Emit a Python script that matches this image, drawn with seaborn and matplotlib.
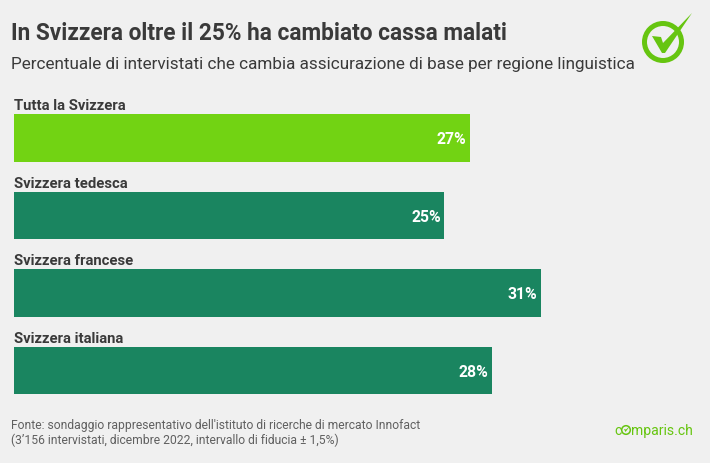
import matplotlib
matplotlib.use("Agg")
import matplotlib.pyplot as plt
from matplotlib.patches import Circle, Polygon
import pandas as pd
import seaborn as sns

regions = ["Tutta la Svizzera", "Svizzera tedesca", "Svizzera francese", "Svizzera italiana"]
shares = [26.8, 25.3, 31.0, 28.1]
share_labels = ["27%", "25%", "31%", "28%"]
bar_colors = ["#72D313", "#1A8560", "#1A8560", "#1A8560"]

BG = "#F0F0F0"
DARK = "#3A3A3A"
GREEN = "#66C510"
W, H = 710, 464

sns.set_theme(style="white", rc={"figure.facecolor": BG, "axes.facecolor": BG})
plt.rcParams["font.family"] = ["Roboto", "DejaVu Sans"]

df = pd.DataFrame({"region": regions, "share": shares})

fig = plt.figure(figsize=(W / 100, H / 100), dpi=100)
ax = fig.add_axes([14 / W, 1 - 410.25 / H, 680 / W, 310 / H])
sns.barplot(
    data=df, x="share", y="region", hue="region", palette=bar_colors,
    width=0.61, saturation=1, legend=False, linewidth=0, ax=ax,
)
ax.set_xlim(0, 40)
ax.set_ylim(3.5, -0.5)
ax.axis("off")

for i, (name, lab, val) in enumerate(zip(regions, share_labels, shares)):
    ax.text(0, i - 0.33, name, fontsize=10.7, fontweight="bold", color=DARK, va="bottom", ha="left")
    ax.text(val - 0.2, i + 0.01, lab, fontsize=11.3, fontweight="bold", color="white", va="center", ha="right")

fig.text(11 / W, 1 - 33.5 / H, "In Svizzera oltre il 25% ha cambiato cassa malati",
         fontsize=16.3, fontweight="bold", color=DARK, va="center", ha="left")
fig.text(11 / W, 1 - 64.5 / H, "Percentuale di intervistati che cambia assicurazione di base per regione linguistica",
         fontsize=12.3, color=DARK, va="center", ha="left")
fig.text(11 / W, 1 - 426 / H, "Fonte: sondaggio rappresentativo dell'istituto di ricerche di mercato Innofact",
         fontsize=8.7, color="#606060", va="center", ha="left")
fig.text(11 / W, 1 - 440 / H, "(3’156 intervistati, dicembre 2022, intervallo di fiducia ± 1,5%)",
         fontsize=8.7, color="#606060", va="center", ha="left")

# logos, drawn in pixel coordinates on an overlay
over = fig.add_axes([0, 0, 1, 1], facecolor="none")
over.set_xlim(0, W)
over.set_ylim(H, 0)
over.axis("off")
over.add_patch(Circle((663, 43), 18.5, fill=False, ec=GREEN, lw=3.6))
over.add_patch(Polygon([(652, 37), (661, 38), (663, 44), (692, 14), (665, 54), (662, 54)], fc=GREEN, ec="none"))

over.text(614, 431, "c", fontsize=10.1, color=GREEN, va="center", ha="left")
over.add_patch(Circle((626, 431), 4.3, fill=False, ec=GREEN, lw=1.1))
over.add_patch(Polygon([(624, 430), (625.5, 433), (630, 427), (626, 430.5)], fc=GREEN, ec="none"))
over.text(631, 431, "mparis.ch", fontsize=10.1, color=GREEN, va="center", ha="left")

fig.savefig("out.png", dpi=100, facecolor=BG)
